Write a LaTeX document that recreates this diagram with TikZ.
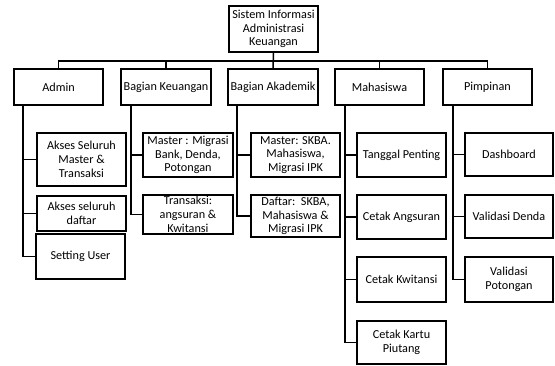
\documentclass[tikz,border=0pt]{standalone}
\usepackage{fontspec}
\setmainfont{Carlito}
\begin{document}
\begin{tikzpicture}[x=1pt,y=-1pt,
  box/.style={draw, line width=1.6pt, align=center, inner sep=0pt,
    font=\fontsize{12.2}{13.8}\selectfont},
  conn/.style={draw, line width=1.5pt}]
\useasboundingbox (0,0) rectangle (555,365);
% level 0
\node[box, minimum width=89, minimum height=46] (root) at (273.5,29) {Sistem Informasi\\Administrasi\\Keuangan};
% level 1
\node[box, minimum width=89, minimum height=36] (admin) at (58.5,87) {Admin};
\node[box, minimum width=90, minimum height=36] (keu) at (166,87) {Bagian Keuangan};
\node[box, minimum width=90, minimum height=36] (akad) at (273,87) {Bagian Akademik};
\node[box, minimum width=89, minimum height=36] (mhs) at (379.5,87) {Mahasiswa};
\node[box, minimum width=89, minimum height=36] (pim) at (487.5,87) {Pimpinan};
% admin children
\node[box, minimum width=89, minimum height=53] (a1) at (81.5,159.5) {Akses Seluruh\\Master \&\\Transaksi};
\node[box, minimum width=89, minimum height=35] (a2) at (81.5,213.5) {Akses seluruh\\daftar};
\node[box, minimum width=89, minimum height=45] (a3) at (80.5,256.5) {Setting User};
% keuangan children
\node[box, minimum width=90, minimum height=44] (k1) at (188,155) {Master : Migrasi\\Bank, Denda,\\Potongan};
\node[box, minimum width=90, minimum height=39] (k2) at (188,214.5) {Transaksi:\\angsuran \&\\Kwitansi};
% akademik children
\node[box, minimum width=89, minimum height=44] (d1) at (295.5,155) {Master: SKBA.\\Mahasiswa,\\Migrasi IPK};
\node[box, minimum width=89, minimum height=42] (d2) at (295.5,216) {Daftar:\ \ SKBA,\\Mahasiswa \&\\Migrasi IPK};
% mahasiswa children
\node[box, minimum width=89, minimum height=44] (m1) at (401.5,155) {Tanggal Penting};
\node[box, minimum width=89, minimum height=44] (m2) at (401.5,217) {Cetak Angsuran};
\node[box, minimum width=89, minimum height=45] (m3) at (401.5,279.5) {Cetak Kwitansi};
\node[box, minimum width=89, minimum height=43] (m4) at (401.5,342.5) {Cetak Kartu\\Piutang};
% pimpinan children
\node[box, minimum width=88, minimum height=43] (p1) at (509,154.5) {Dashboard};
\node[box, minimum width=88, minimum height=43] (p2) at (509,216.5) {Validasi Denda};
\node[box, minimum width=88, minimum height=45] (p3) at (509,279.5) {Validasi\\Potongan};
% bus from root
\coordinate (bus) at (273.5,61);
\draw[conn] (root.south) -- (akad.north);
\draw[conn] (bus) -| (admin.north);
\draw[conn] (bus) -| (keu.north);
\draw[conn] (bus) -| (mhs.north);
\draw[conn] (bus) -| (pim.north);
% spines
\coordinate (sa) at (23,105);
\draw[conn] (sa) |- (a3.west);
\draw[conn] (sa |- a1.west) -- (a1.west);
\draw[conn] (sa |- a2.west) -- (a2.west);
\coordinate (sk) at (131,105);
\draw[conn] (sk) |- (k2.west);
\draw[conn] (sk |- k1.west) -- (k1.west);
\coordinate (sd) at (237,105);
\draw[conn] (sd) |- (d2.west);
\draw[conn] (sd |- d1.west) -- (d1.west);
\coordinate (sm) at (345,105);
\draw[conn] (sm) |- (m4.west);
\draw[conn] (sm |- m1.west) -- (m1.west);
\draw[conn] (sm |- m2.west) -- (m2.west);
\draw[conn] (sm |- m3.west) -- (m3.west);
\coordinate (sp) at (453,105);
\draw[conn] (sp) |- (p3.west);
\draw[conn] (sp |- p1.west) -- (p1.west);
\draw[conn] (sp |- p2.west) -- (p2.west);
\end{tikzpicture}
\end{document}
